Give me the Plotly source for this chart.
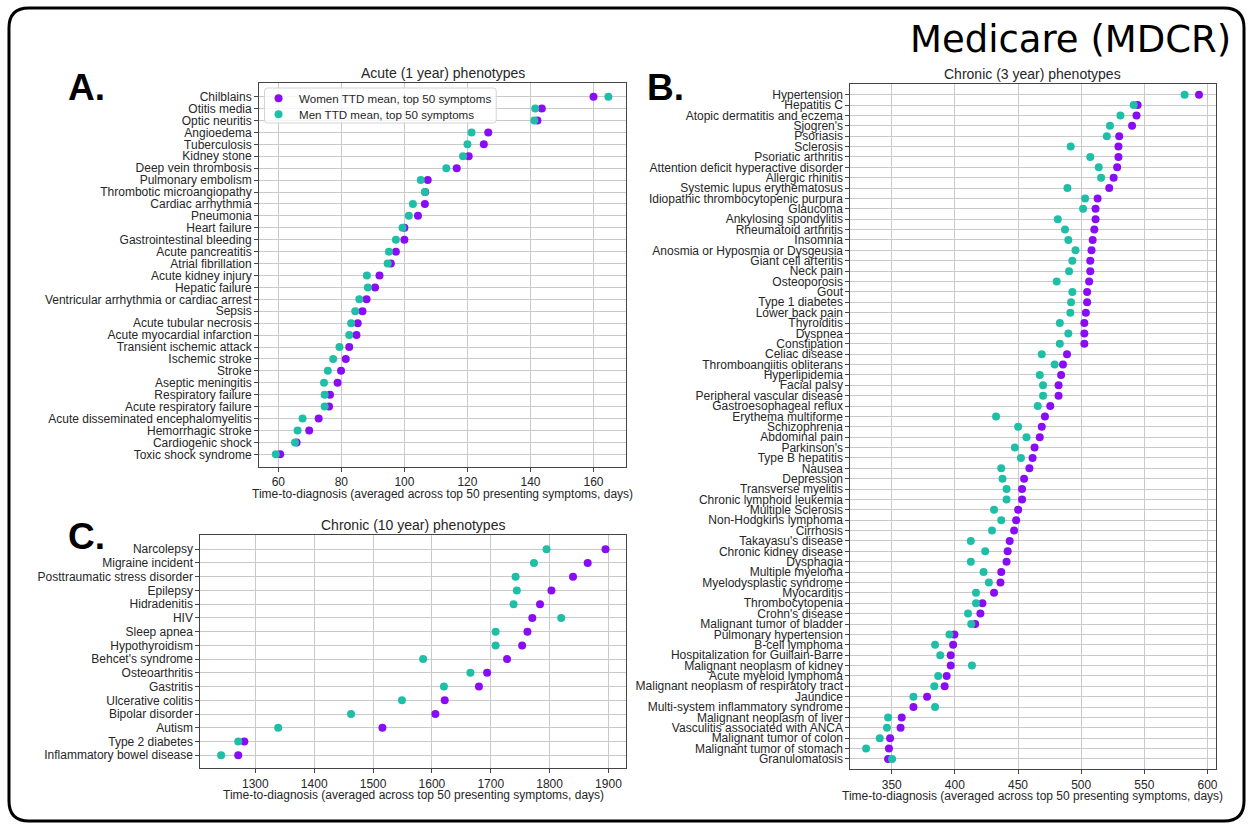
import plotly.graph_objects as go

W, H = 1250, 824

# ---------------- data ----------------
a_names = ["Chilblains", "Otitis media", "Optic neuritis", "Angioedema", "Tuberculosis",
           "Kidney stone", "Deep vein thrombosis", "Pulmonary embolism",
           "Thrombotic microangiopathy", "Cardiac arrhythmia", "Pneumonia", "Heart failure",
           "Gastrointestinal bleeding", "Acute pancreatitis", "Atrial fibrillation",
           "Acute kidney injury", "Hepatic failure", "Ventricular arrhythmia or cardiac arrest",
           "Sepsis", "Acute tubular necrosis", "Acute myocardial infarction",
           "Transient ischemic attack", "Ischemic stroke", "Stroke", "Aseptic meningitis",
           "Respiratory failure", "Acute respiratory failure",
           "Acute disseminated encephalomyelitis", "Hemorrhagic stroke", "Cardiogenic shock",
           "Toxic shock syndrome"]
a_women = [160.0, 143.6, 142.2, 126.6, 125.2, 120.4, 116.6, 107.4, 106.6, 106.5, 104.3,
           100.0, 100.0, 97.3, 95.7, 92.1, 90.7, 88.0, 86.7, 85.2, 84.8, 82.5, 81.4, 79.9,
           78.8, 76.4, 76.1, 72.8, 69.8, 65.8, 60.6]
a_men = [164.7, 141.5, 141.2, 121.3, 120.0, 118.6, 113.3, 105.2, 106.5, 102.7, 101.4,
         99.4, 97.3, 95.1, 94.7, 88.1, 88.4, 85.7, 84.4, 83.1, 82.5, 79.4, 77.4, 75.7,
         74.5, 74.7, 74.7, 67.7, 66.1, 65.3, 59.2]
a_ticks = [60, 80, 100, 120, 140, 160]

b_names = ["Hypertension", "Hepatitis C", "Atopic dermatitis and eczema", "Sjogren's",
           "Psoriasis", "Sclerosis", "Psoriatic arthritis",
           "Attention deficit hyperactive disorder", "Allergic rhinitis",
           "Systemic lupus erythematosus", "Idiopathic thrombocytopenic purpura", "Glaucoma",
           "Ankylosing spondylitis", "Rheumatoid arthritis", "Insomnia",
           "Anosmia or Hyposmia or Dysgeusia", "Giant cell arteritis", "Neck pain",
           "Osteoporosis", "Gout", "Type 1 diabetes", "Lower back pain", "Thyroiditis",
           "Dyspnea", "Constipation", "Celiac disease", "Thromboangiitis obliterans",
           "Hyperlipidemia", "Facial palsy", "Peripheral vascular disease",
           "Gastroesophageal reflux", "Erythema multiforme", "Schizophrenia",
           "Abdominal pain", "Parkinson's", "Type B hepatitis", "Nausea", "Depression",
           "Transverse myelitis", "Chronic lymphoid leukemia", "Multiple Sclerosis",
           "Non-Hodgkins lymphoma", "Cirrhosis", "Takayasu's disease",
           "Chronic kidney disease", "Dysphagia", "Multiple myeloma",
           "Myelodysplastic syndrome", "Myocarditis", "Thrombocytopenia", "Crohn's disease",
           "Malignant tumor of bladder", "Pulmonary hypertension", "B-cell lymphoma",
           "Hospitalization for Guillain-Barre", "Malignant neoplasm of kidney",
           "Acute myeloid lymphoma", "Malignant neoplasm of respiratory tract", "Jaundice",
           "Multi-system inflammatory syndrome", "Malignant neoplasm of liver",
           "Vasculitis associated with ANCA", "Malignant tumor of colon",
           "Malignant tumor of stomach", "Granulomatosis"]
b_women = [593.3, 544.7, 543.8, 540.3, 530.1, 529.5, 529.5, 528.5, 525.7, 522.2, 513.0,
           511.4, 511.4, 510.4, 509.1, 508.2, 507.2, 507.2, 506.3, 504.7, 504.7, 503.7,
           502.5, 502.5, 502.5, 488.8, 485.6, 484.1, 482.1, 482.1, 475.5, 471.3, 468.8,
           467.2, 463.1, 461.5, 459.0, 454.8, 453.2, 453.2, 450.1, 448.5, 446.9, 443.4,
           441.8, 440.9, 436.7, 436.1, 431.0, 421.8, 420.2, 416.1, 399.6, 398.6, 396.7,
           396.7, 393.5, 391.9, 378.0, 367.2, 357.9, 357.0, 348.7, 347.8, 347.1]
b_men = [581.9, 541.6, 531.1, 522.8, 520.3, 491.7, 507.2, 513.9, 515.8, 489.1, 503.1,
         501.5, 481.5, 487.2, 489.8, 495.5, 493.0, 490.4, 480.6, 493.0, 492.0, 491.4,
         483.1, 489.8, 483.1, 468.8, 479.0, 467.2, 469.8, 469.8, 465.6, 432.6, 450.1,
         456.7, 447.5, 452.3, 436.7, 437.7, 440.9, 440.9, 431.0, 436.7, 429.4, 412.6,
         424.0, 412.6, 422.7, 426.9, 416.7, 416.7, 410.4, 412.9, 395.7, 384.3, 388.4,
         413.5, 386.8, 383.7, 367.2, 384.3, 347.1, 346.2, 340.5, 329.7, 350.3]
b_ticks = [350, 400, 450, 500, 550, 600]

c_names = ["Narcolepsy", "Migraine incident", "Posttraumatic stress disorder", "Epilepsy",
           "Hidradenitis", "HIV", "Sleep apnea", "Hypothyroidism", "Behcet's syndrome",
           "Osteoarthritis", "Gastritis", "Ulcerative colitis", "Bipolar disorder", "Autism",
           "Type 2 diabetes", "Inflammatory bowel disease"]
c_women = [1895.0, 1864.7, 1839.8, 1803.1, 1783.7, 1770.6, 1762.3, 1753.3, 1727.7,
           1693.8, 1679.9, 1621.8, 1605.9, 1515.9, 1281.3, 1270.9]
c_men = [1794.8, 1773.4, 1742.2, 1744.3, 1738.8, 1819.7, 1708.3, 1708.3, 1585.1, 1665.4,
         1620.4, 1549.1, 1462.6, 1338.8, 1270.9, 1241.9]
c_ticks = [1300, 1400, 1500, 1600, 1700, 1800, 1900]

WOMEN_LABEL = "Women TTD mean, top 50 symptoms"
MEN_LABEL = "Men TTD mean, top 50 symptoms"
XLABEL = "Time-to-diagnosis (averaged across top 50 presenting symptoms, days)"

# ---------------- styling ----------------
PURPLE = "#8a0cf5"
TEAL = "#1fbfa7"
FONT = "Liberation Sans, Arial, sans-serif"
TXT = "#262626"


def px_x(p):
    return p / W


def px_y(p):
    return 1 - p / H


def rounded_path(x0, y0, x1, y1, rad):
    def P(x, y):
        return f"{px_x(x):.5f},{px_y(y):.5f}"
    return (f"M {P(x0 + rad, y0)} L {P(x1 - rad, y0)} Q {P(x1, y0)} {P(x1, y0 + rad)} "
            f"L {P(x1, y1 - rad)} Q {P(x1, y1)} {P(x1 - rad, y1)} "
            f"L {P(x0 + rad, y1)} Q {P(x0, y1)} {P(x0, y1 - rad)} "
            f"L {P(x0, y0 + rad)} Q {P(x0, y0)} {P(x0 + rad, y0)} Z")


# panel frames in pixels: (left, right, top, bottom), x-range, y-range
panels = [
    dict(names=a_names, women=a_women, men=a_men, ticks=a_ticks,
         frame=(259.5, 627.0, 83.3, 466.7), xr=[53.9, 170.3], yr=[31.04, -1.12],
         title="Acute (1 year) phenotypes", letter="A.", letter_pos=(66, 88)),
    dict(names=b_names, women=b_women, men=b_men, ticks=b_ticks,
         frame=(851.8, 1217.5, 84.0, 769.3), xr=[317.3, 606.4], yr=[65.0, -1.03],
         title="Chronic (3 year) phenotypes", letter="B.", letter_pos=(646, 88)),
    dict(names=c_names, women=c_women, men=c_men, ticks=c_ticks,
         frame=(200.7, 627.0, 534.7, 768.3), xr=[1206.6, 1929.8], yr=[15.95, -1.06],
         title="Chronic (10 year) phenotypes", letter="C.", letter_pos=(66, 536)),
]

fig = go.Figure()
layout = dict(
    width=W, height=H,
    margin=dict(l=0, r=0, t=0, b=0),
    paper_bgcolor="white", plot_bgcolor="white",
    font=dict(family=FONT, size=12, color=TXT),
    showlegend=False,
)
annotations = []
shapes = []
for i, p in enumerate(panels):
    suf = "" if i == 0 else str(i + 1)
    xa, ya = "x" + suf, "y" + suf
    idx = list(range(len(p["names"])))
    fig.add_trace(go.Scatter(x=p["women"], y=idx, mode="markers", xaxis=xa, yaxis=ya,
                             name=WOMEN_LABEL, marker=dict(color=PURPLE, size=8)))
    fig.add_trace(go.Scatter(x=p["men"], y=idx, mode="markers", xaxis=xa, yaxis=ya,
                             name=MEN_LABEL, marker=dict(color=TEAL, size=8)))
    l, r, t, b = p["frame"]
    axis_common = dict(showline=True, mirror=True, linecolor="#444444", linewidth=1,
                       showgrid=True, gridcolor="#c9c9c9", gridwidth=1, zeroline=False,
                       ticks="outside", ticklen=4, tickcolor="#444444",
                       tickfont=dict(family=FONT, size=12, color=TXT))
    layout["xaxis" + suf] = dict(domain=[px_x(l), px_x(r)], range=p["xr"],
                                 anchor=ya, tickvals=p["ticks"],
                                 ticktext=[str(v) for v in p["ticks"]], **axis_common)
    layout["yaxis" + suf] = dict(domain=[px_y(b), px_y(t)], range=p["yr"],
                                 anchor=xa, tickvals=idx, ticktext=p["names"],
                                 **axis_common)
    annotations.append(dict(text=p["title"], x=px_x((l + r) / 2), y=px_y(t - 10),
                            xref="paper", yref="paper", xanchor="center", yanchor="middle",
                            showarrow=False, font=dict(family=FONT, size=14, color=TXT)))
    annotations.append(dict(text=XLABEL, x=px_x((l + r) / 2), y=px_y(b + 27),
                            xref="paper", yref="paper", xanchor="center", yanchor="middle",
                            showarrow=False, font=dict(family=FONT, size=12, color=TXT)))
    lx, ly = p["letter_pos"]
    annotations.append(dict(text="<b>" + p["letter"] + "</b>", x=px_x(lx), y=px_y(ly),
                            xref="paper", yref="paper", xanchor="left", yanchor="middle",
                            showarrow=False,
                            font=dict(family="Liberation Sans, Arial", size=37,
                                      color="black")))

# legend (inside panel A, upper left)
leg_box = (265, 88, 497, 123)
leg_items = [(WOMEN_LABEL, PURPLE, 98.3), (MEN_LABEL, TEAL, 114.3)]
shapes.append(dict(type="path", path=rounded_path(*leg_box, 3), xref="paper", yref="paper",
                   fillcolor="rgba(255,255,255,0.8)", line=dict(color="#d4d4d4", width=1),
                   layer="above"))
for label, col, yy in leg_items:
    shapes.append(dict(type="circle", xref="paper", yref="paper", xsizemode="pixel",
                       ysizemode="pixel", xanchor=px_x(279), yanchor=px_y(yy),
                       x0=-4, x1=4, y0=-4, y1=4, fillcolor=col, line=dict(width=0),
                       layer="above"))
    annotations.append(dict(text=label, x=px_x(297), y=px_y(yy), xref="paper", yref="paper",
                            xanchor="left", yanchor="middle", showarrow=False,
                            font=dict(family=FONT, size=11.6, color=TXT)))

# main title
annotations.append(dict(text="Medicare (MDCR)", x=px_x(1235), y=px_y(40), xref="paper",
                        yref="paper", xanchor="right", yanchor="middle", showarrow=False,
                        font=dict(family="DejaVu Sans", size=37, color="black")))
layout["annotations"] = annotations

# rounded outer border
shapes.append(dict(type="path", path=rounded_path(9, 8, 1246, 821, 20), xref="paper",
                   yref="paper", line=dict(color="black", width=3), layer="above"))
layout["shapes"] = shapes

fig.update_layout(**layout)
fig.write_html("out.html", config={"displayModeBar": False},
               post_script="document.body.style.margin='0';document.body.style.overflow='hidden';")
